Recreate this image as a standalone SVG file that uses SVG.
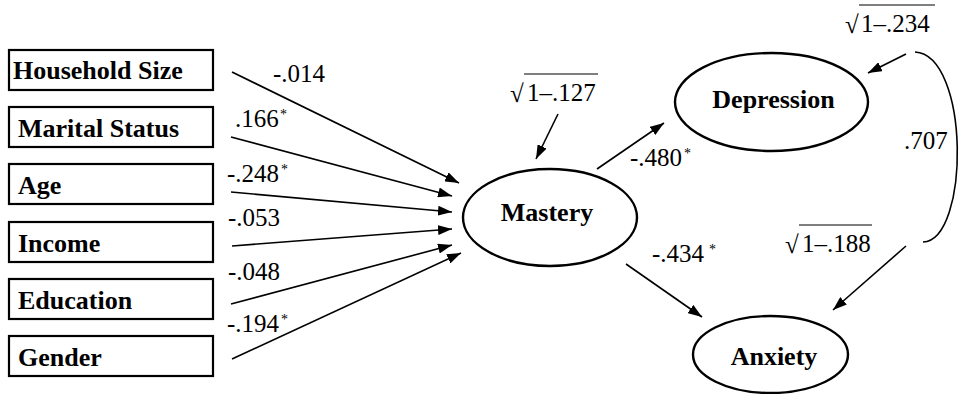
<svg xmlns="http://www.w3.org/2000/svg" width="962" height="394" viewBox="0 0 962 394" font-family="Liberation Serif, Times New Roman, serif">
<defs>
<marker id="ah" viewBox="0 0 14 10" refX="14" refY="5" markerWidth="14" markerHeight="10" markerUnits="userSpaceOnUse" orient="auto">
<path d="M0,0 L14,5 L0,10 Z" fill="#000"/>
</marker>
</defs>
<style>
text{fill:#000;font-family:'Liberation Serif','Times New Roman',serif}
.box{fill:#fff;stroke:#000;stroke-width:2.2}
.ell{fill:#fff;stroke:#000;stroke-width:2.4}
.lbl{font-weight:bold;font-size:26px}
.mid{text-anchor:middle}
.num{font-size:25px}
.sup{font-size:14px}
.rad{font-size:25px}
.arr{stroke:#000;stroke-width:1.6;fill:none;marker-end:url(#ah)}
.ln{stroke:#000;stroke-width:1.6;fill:none}
.bar{stroke:#000;stroke-width:1.2}
</style>
<rect width="962" height="394" fill="#fff"/>

<g id="household">
<rect class="box" x="9" y="50" width="204" height="40"/>
<text class="lbl" x="13" y="79">Household Size</text>
</g>
<g id="marital">
<rect class="box" x="9" y="107" width="204" height="40"/>
<text class="lbl" x="18" y="137">Marital Status</text>
</g>
<g id="age">
<rect class="box" x="9" y="164" width="204" height="40"/>
<text class="lbl" x="18" y="194">Age</text>
</g>
<g id="income">
<rect class="box" x="9" y="222" width="204" height="40"/>
<text class="lbl" x="18" y="252">Income</text>
</g>
<g id="education">
<rect class="box" x="9" y="279" width="204" height="40"/>
<text class="lbl" x="18" y="309">Education</text>
</g>
<g id="gender">
<rect class="box" x="9" y="336" width="204" height="40"/>
<text class="lbl" x="18" y="366">Gender</text>
</g>

<g id="mastery">
<ellipse class="ell" cx="550" cy="217.5" rx="87" ry="48.5"/>
<text class="lbl mid" x="547" y="221">Mastery</text>
</g>
<g id="depression">
<ellipse class="ell" cx="771.5" cy="102" rx="96.5" ry="49"/>
<text class="lbl mid" x="773.5" y="108">Depression</text>
</g>
<g id="anxiety">
<ellipse class="ell" cx="770.5" cy="354.5" rx="77.5" ry="38.5"/>
<text class="lbl mid" x="774" y="365">Anxiety</text>
</g>

<g id="connectors">
<line class="arr" x1="232" y1="72" x2="459" y2="183"/>
<line class="arr" x1="231" y1="137" x2="452" y2="196"/>
<line class="arr" x1="231" y1="192" x2="452" y2="212"/>
<line class="arr" x1="232" y1="246" x2="452" y2="229"/>
<line class="arr" x1="231" y1="304" x2="452" y2="245"/>
<line class="arr" x1="232" y1="359" x2="461" y2="253"/>
<line class="arr" x1="597" y1="169" x2="664" y2="123"/>
<line class="arr" x1="626" y1="264" x2="702" y2="317"/>
<line class="arr" x1="558" y1="114" x2="536" y2="159"/>
<line class="arr" x1="906" y1="54" x2="868" y2="73"/>
<line class="arr" x1="906" y1="246" x2="833" y2="310"/>
<path class="ln" d="M915,52 C970,55 970,240 923,242"/>
</g>

<g id="labels">
<text class="num" x="273" y="82">-.014</text>
<text class="num" x="235" y="127">.166</text>
<text class="sup" x="280" y="119">*</text>
<text class="num" x="227" y="182">-.248</text>
<text class="sup" x="281" y="174">*</text>
<text class="num" x="228" y="226">-.053</text>
<text class="num" x="228" y="280">-.048</text>
<text class="num" x="227" y="332">-.194</text>
<text class="sup" x="281" y="324">*</text>
<text class="num" x="630" y="166">-.480</text>
<text class="sup" x="684" y="158">*</text>
<text class="num" x="652" y="262">-.434</text>
<text class="sup" x="709" y="254">*</text>
<text class="num" x="904" y="149">.707</text>

<text class="rad" x="510" y="102">√</text>
<line class="bar" x1="524" y1="74" x2="598" y2="74"/>
<text class="rad" x="527" y="101">1–.127</text>

<text class="rad" x="845" y="33">√</text>
<line class="bar" x1="859" y1="5" x2="935" y2="5"/>
<text class="rad" x="861" y="32">1–.234</text>

<text class="rad" x="785" y="253">√</text>
<line class="bar" x1="799" y1="225" x2="872" y2="225"/>
<text class="rad" x="802" y="252">1–.188</text>
</g>
</svg>
